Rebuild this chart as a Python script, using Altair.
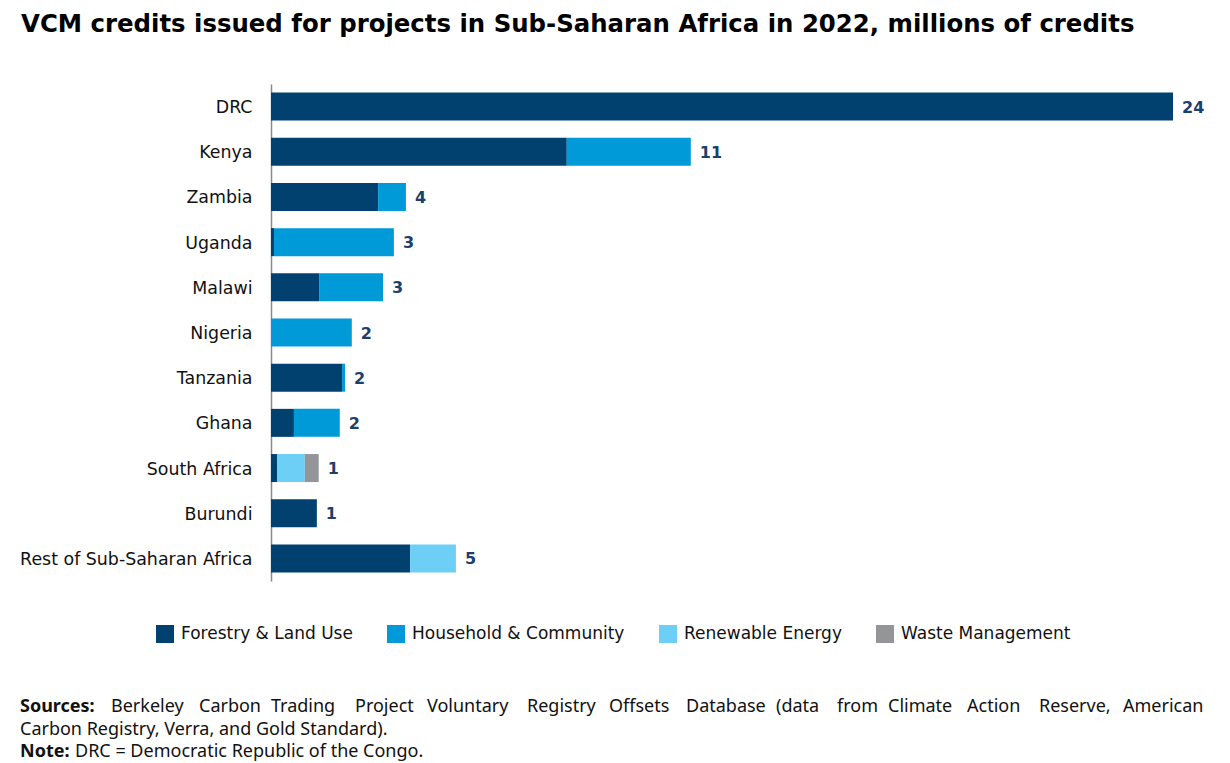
import altair as alt
import pandas as pd

countries = ["DRC", "Kenya", "Zambia", "Uganda", "Malawi", "Nigeria", "Tanzania",
             "Ghana", "South Africa", "Burundi", "Rest of Sub-Saharan Africa"]
categories = ["Forestry & Land Use", "Household & Community", "Renewable Energy", "Waste Management"]
colors = ["#00416F", "#009AD9", "#6DCFF6", "#939598"]

forestry = [24.0, 7.87, 2.85, 0.08, 1.28, 0.0, 1.89, 0.61, 0.16, 1.22, 3.70]
household = [0.0, 3.30, 0.74, 3.19, 1.70, 2.15, 0.08, 1.22, 0.0, 0.0, 0.0]
renewable = [0.0, 0.0, 0.0, 0.0, 0.0, 0.0, 0.0, 0.0, 0.74, 0.0, 1.22]
waste = [0.0, 0.0, 0.0, 0.0, 0.0, 0.0, 0.0, 0.0, 0.37, 0.0, 0.0]
total_labels = ["24", "11", "4", "3", "3", "2", "2", "2", "1", "1", "5"]

title_text = "VCM credits issued for projects in Sub-Saharan Africa in 2022, millions of credits"
sources_bold = "Sources:"
sources_words = ["Berkeley", "Carbon", "Trading", "Project", "Voluntary", "Registry", "Offsets",
                 "Database", "(data", "from", "Climate", "Action", "Reserve,", "American"]
sources_text2 = "Carbon Registry, Verra, and Gold Standard)."
note_bold = "Note:"
note_text = "DRC = Democratic Republic of the Congo."

rows = []
series = [forestry, household, renewable, waste]
for ci, cat in enumerate(categories):
    for i, c in enumerate(countries):
        rows.append({"country": c, "category": cat, "value": series[ci][i], "order": ci})
df = pd.DataFrame(rows)

totals = pd.DataFrame({
    "country": countries,
    "total": [sum(s[i] for s in series) for i in range(len(countries))],
    "label": total_labels,
})

FONT = "DejaVu Sans"
NOTE_FONT = "Noto Sans"
x_scale = alt.Scale(domain=[0, 24.0], nice=False, zero=True)
y_enc = alt.Y("country:N", sort=countries, title=None,
              scale=alt.Scale(paddingInner=0.38, paddingOuter=0.19),
              axis=alt.Axis(labelFont=FONT, labelFontSize=17.4, labelColor="#111111",
                            labelPadding=19, labelOffset=1.5, ticks=False,
                            domainColor="#8a8a8a", domainWidth=1.5, labelLimit=300))

bars = alt.Chart(df).mark_bar().encode(
    x=alt.X("value:Q", stack="zero", scale=x_scale, axis=None),
    y=y_enc,
    color=alt.Color("category:N", sort=categories,
                    scale=alt.Scale(domain=categories, range=colors),
                    legend=alt.Legend(title=None, orient="none", direction="horizontal",
                                      legendX=-115, legendY=541,
                                      symbolType="square", symbolSize=324,
                                      symbolStrokeWidth=0, symbolOpacity=1,
                                      labelFont=FONT, labelFontSize=17, labelColor="#111111",
                                      labelLimit=400, columnPadding=34, labelOffset=7)),
    order=alt.Order("order:Q"),
)

labels = alt.Chart(totals).mark_text(align="left", baseline="middle", dx=9, dy=1,
                                     font=FONT, fontSize=16, fontWeight="bold",
                                     color="#1B3F6E").encode(
    x=alt.X("total:Q", scale=x_scale, axis=None),
    y=alt.Y("country:N", sort=countries),
    text="label:N",
)

def txt(t, x, y, size, weight="normal", font=FONT, color="#000000"):
    return alt.Chart(pd.DataFrame({"t": [t]})).mark_text(
        align="left", baseline="middle", font=font, fontSize=size,
        fontWeight=weight, color=color).encode(
        x=alt.value(x), y=alt.value(y), text="t:N")

layers = [bars, labels, txt(title_text, -250, -59, 24.4, "bold")]
layers.append(txt(sources_bold, -251, 623, 18, "bold", NOTE_FONT, "#111111"))
word_x = [111, 199, 271, 355, 427, 527, 609, 686, 776, 837, 888, 967, 1039, 1123]
for w, px in zip(sources_words, word_x):
    layers.append(txt(w, px - 271, 623, 18, "normal", NOTE_FONT, "#111111"))
layers.append(txt(sources_text2, -251, 646, 18, "normal", NOTE_FONT, "#111111"))
layers.append(txt(note_bold, -251, 668, 18, "bold", NOTE_FONT, "#111111"))
layers.append(txt(note_text, -196, 668, 18, "normal", NOTE_FONT, "#111111"))

chart = alt.layer(*layers).properties(
    width=902, height=497, background="white",
    autosize=alt.AutoSizeParams(type="none"),
    padding={"left": 263, "top": 76, "right": 49, "bottom": 180},
).configure_view(stroke=None)

chart.save("out.html", embed_options={"renderer": "svg", "actions": False})
